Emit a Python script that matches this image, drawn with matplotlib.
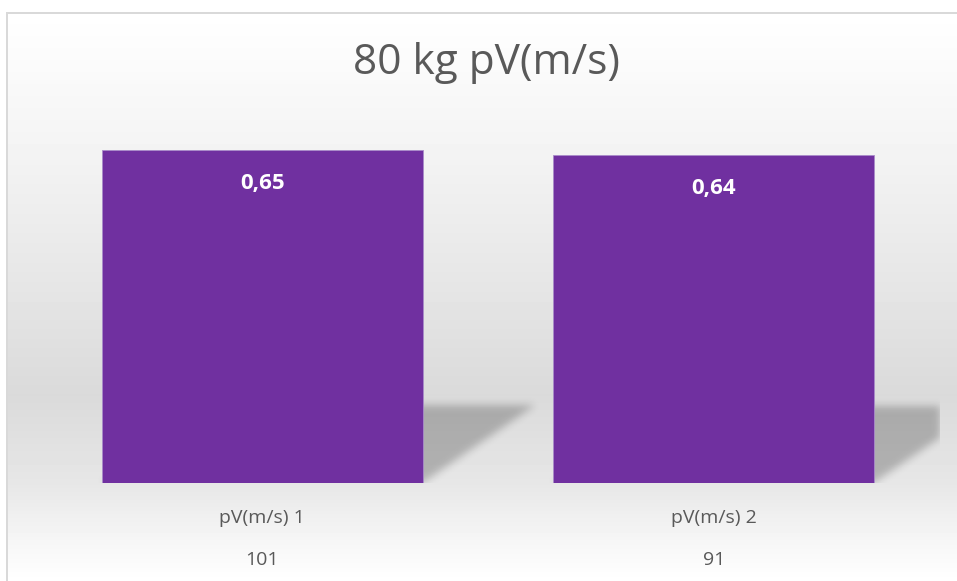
import numpy as np
import matplotlib
matplotlib.use("Agg")
import matplotlib.pyplot as plt
from matplotlib.lines import Line2D

categories = ["pV(m/s) 1", "pV(m/s) 2"]
sub_labels = ["101", "91"]
values = [0.65, 0.64]
title = "80 kg pV(m/s)"

W, H = 957, 581
DPI = 100
PT = 72 / DPI  # points per pixel
BAR_COLOR = "#7030a0"
TEXT_COLOR = "#595959"
BAR_WIDTH = 0.71

plt.rcParams['font.family'] = ['Open Sans', 'DejaVu Sans']


def px(x0, y0, x1, y1):
    # pixel box with top-left origin -> figure fraction rect
    return [x0 / W, 1 - y1 / H, (x1 - x0) / W, (y1 - y0) / H]


def blur(a, s):
    r = np.arange(-3 * s, 3 * s + 1)
    k = np.exp(-0.5 * (r / s) ** 2)
    k /= k.sum()
    a = np.apply_along_axis(lambda c: np.convolve(c, k, mode='same'), 0, a)
    a = np.apply_along_axis(lambda c: np.convolve(c, k, mode='same'), 1, a)
    return a


fig = plt.figure(figsize=(W / DPI, H / DPI), dpi=DPI)
fig.patch.set_facecolor('white')

# chart area background: grey vertical gradient
bg = fig.add_axes(px(7, 12, W, H))
rows = np.arange(12, H)
g = np.interp(rows, [12, 150, 300, 395, 483, 540, 581],
              [1.0, 0.955, 0.895, 0.855, 0.905, 0.965, 1.0])
bg.imshow(np.repeat(g[:, None], 4, axis=1), cmap='gray', vmin=0, vmax=1,
          aspect='auto', extent=[0, 1, 0, 1], interpolation='nearest')
bg.axis('off')

# chart border (top and left visible)
fig.add_artist(Line2D([6.5 / W, 1], [1 - 12.5 / H] * 2, color='#d9d9d9', lw=2 * PT))
fig.add_artist(Line2D([6.5 / W] * 2, [0, 1 - 12.5 / H], color='#d9d9d9', lw=2 * PT))

# plot area
top_px, base_px, left_px, right_px = 130, 483, 36.5, 939.5
scale = 512  # px per unit
ax = fig.add_axes(px(left_px, top_px, right_px, base_px))
ax.patch.set_alpha(0)
ymax = (base_px - top_px) / scale
for s in ax.spines.values():
    s.set_visible(False)
ax.set_xticks([])
ax.set_yticks([])

x = np.arange(len(categories))

# perspective shadows behind bars
nx, ny = int(right_px - left_px), int(base_px - top_px)
gx = np.linspace(-0.5, 1.5, nx)
gy = np.linspace(0, ymax, ny)
XX, YY = np.meshgrid(gx, gy)
mask = np.zeros_like(XX)
dx = 0.25
for xi, v in zip(x, values):
    h = v * 0.235
    t = np.clip(YY / h, 0, 1)
    l = xi - BAR_WIDTH / 2 + dx * t
    r = xi + BAR_WIDTH / 2 + dx * t
    mask[(YY <= h) & (XX >= l) & (XX <= r)] = 1
mask = blur(mask, 4)
rgba = np.zeros((ny, nx, 4))
rgba[..., 3] = 0.23 * mask
ax.imshow(rgba, extent=[-0.5, 1.5, 0, ymax], origin='lower', aspect='auto', zorder=1)
ax.set_xlim(-0.5, 1.5)
ax.set_ylim(0, ymax)

ax.bar(x, values, width=BAR_WIDTH, color=BAR_COLOR, edgecolor='#a98cc9',
       linewidth=0.6, zorder=2)

for xi, v in zip(x, values):
    ax.annotate(f"{v:.2f}".replace('.', ','), (xi, v), xytext=(0, -33 * PT),
                textcoords='offset points', ha='center', va='center',
                color='white', fontweight='bold', fontsize=16, zorder=3)

for xi, cat, sub in zip(x, categories, sub_labels):
    ax.annotate(cat, (xi, 0), xytext=(0, -35 * PT), textcoords='offset points',
                ha='center', va='center', color=TEXT_COLOR, fontsize=14,
                annotation_clip=False)
    ax.annotate(sub, (xi, 0), xytext=(0, -77 * PT), textcoords='offset points',
                ha='center', va='center', color=TEXT_COLOR, fontsize=14,
                annotation_clip=False)

fig.text(487 / W, 1 - 63 / H, title, ha='center', va='center',
         color=TEXT_COLOR, fontsize=30.5)

fig.savefig("out.png", dpi=DPI)
